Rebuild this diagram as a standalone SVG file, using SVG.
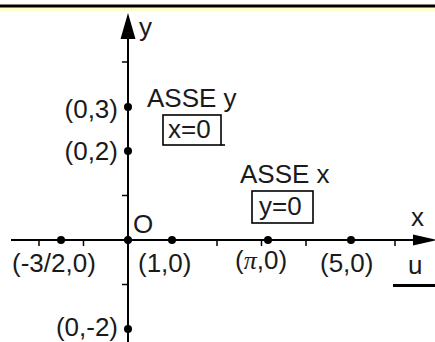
<svg xmlns="http://www.w3.org/2000/svg" width="435" height="342" viewBox="0 0 435 342">
<style>
text{font-family:"Liberation Sans",Arial,sans-serif;font-size:26px;fill:#1a1a1a}
.ax{stroke:#000;stroke-width:2;fill:none}
.tk{stroke:#000;stroke-width:1.5}
.dot{fill:#000}
.box{fill:none;stroke:#000;stroke-width:1.6}
</style>
<rect x="0" y="0" width="435" height="342" fill="#fff"/>
<rect x="0" y="4.5" width="435" height="3" fill="#000"/>
<rect x="0" y="8" width="435" height="3.5" fill="#ffffcc"/>
<g id="axes">
<line class="ax" x1="128" y1="30" x2="128" y2="342"/>
<polygon points="128,13 120.5,39 135.5,39" fill="#000"/>
<line class="ax" x1="11" y1="240" x2="420" y2="240"/>
<polygon points="437,240 413,234.5 413,245.5" fill="#000"/>
<g class="tk">
<line x1="122" y1="62" x2="128" y2="62"/>
<line x1="122" y1="195.5" x2="128" y2="195.5"/>
<line x1="122" y1="284.5" x2="128" y2="284.5"/>
<line x1="39" y1="240" x2="39" y2="246"/>
<line x1="83.5" y1="240" x2="83.5" y2="246"/>
<line x1="217" y1="240" x2="217" y2="246"/>
<line x1="261.5" y1="240" x2="261.5" y2="246"/>
<line x1="306" y1="240" x2="306" y2="246"/>
<line x1="395" y1="240" x2="395" y2="246"/>
</g>
<text x="139" y="36">y</text>
<text x="411" y="226">x</text>
<text x="408" y="274">u</text>
<rect x="393" y="284" width="42" height="3" fill="#000"/>
</g>
<g id="p03"><circle class="dot" cx="128" cy="107" r="4"/><text x="118" y="117.5" text-anchor="end">(0,3)</text></g>
<g id="p02"><circle class="dot" cx="128" cy="151" r="4"/><text x="118" y="160" text-anchor="end">(0,2)</text></g>
<g id="p0m2"><circle class="dot" cx="128" cy="329" r="4"/><text x="118" y="336" text-anchor="end">(0,-2)</text></g>
<g id="origin"><circle class="dot" cx="128" cy="240" r="4"/><text x="133" y="233">O</text></g>
<g id="pm32"><circle class="dot" cx="61" cy="240" r="4"/><text x="12" y="272">(-3/2,0)</text></g>
<g id="p10"><circle class="dot" cx="172" cy="240" r="4"/><text x="138" y="272">(1,0)</text></g>
<g id="ppi"><circle class="dot" cx="268" cy="240" r="4"/><text x="235" y="269">(<tspan font-family="'Liberation Serif',serif" font-style="italic">π</tspan>,0)</text></g>
<g id="p50"><circle class="dot" cx="351" cy="240" r="4"/><text x="320" y="272">(5,0)</text></g>
<g id="asse-y"><text x="147" y="107">ASSE y</text><rect class="box" x="163" y="115" width="58" height="30"/><line class="box" x1="221" y1="145" x2="225" y2="145"/><text x="168" y="138">x=0</text></g>
<g id="asse-x"><text x="240" y="183">ASSE x</text><rect class="box" x="252" y="191" width="61" height="32"/><text x="259" y="215">y=0</text></g>
</svg>
